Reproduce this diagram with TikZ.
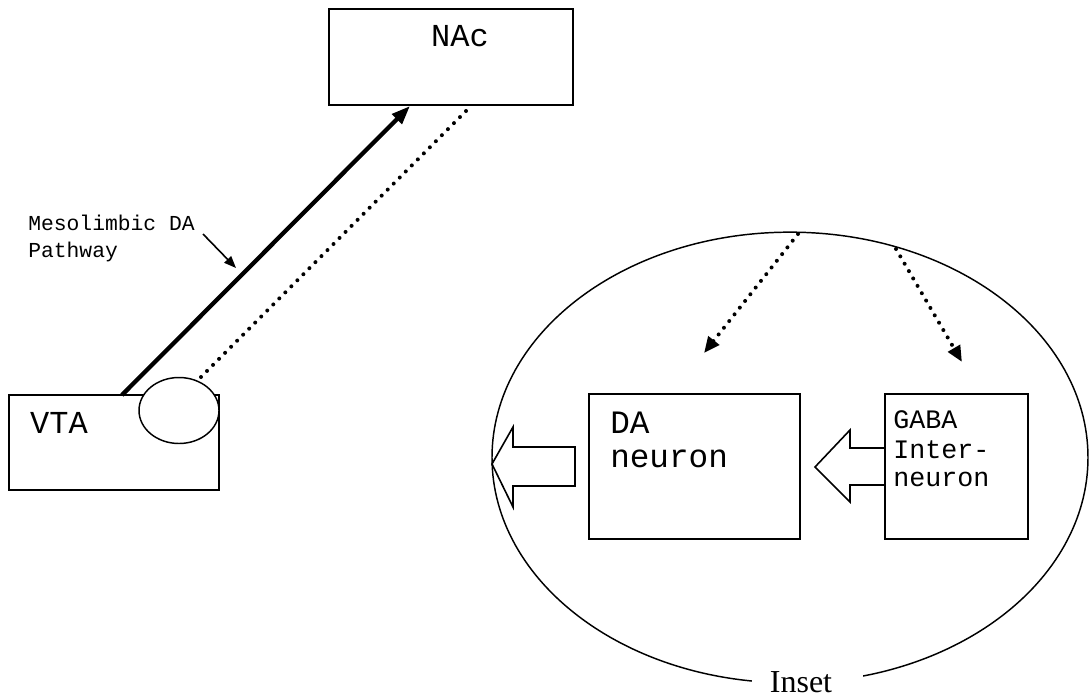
\documentclass[tikz,border=0pt]{standalone}
\usepackage{fontspec}
\setmainfont{Liberation Serif}
\setmonofont{Liberation Mono}
\usetikzlibrary{arrows.meta,shapes.geometric}
\begin{document}
\begin{tikzpicture}[x=0.75pt,y=-0.75pt,
  box/.style={draw,line width=1.5pt,inner sep=0,rectangle},
  txt/.style={inner sep=0,anchor=base west},
  dots/.style={line width=3pt,dash pattern=on 0pt off 6.4pt,line cap=round},
  hollow/.style={draw,line width=1.2pt,line join=miter}]
\useasboundingbox (0,0) rectangle (1090,697);
% boxes
\node[box,line width=1.9pt,minimum width=183pt,minimum height=72pt] (nac) at (451,57) {};
\node[box,minimum width=157.5pt,minimum height=71.25pt] (vta) at (114,442.5) {};
\node[draw,ellipse,fill=white,line width=1.1pt,inner sep=0,minimum width=60pt,minimum height=49.5pt] (term) at (179,410.5) {};
\node[draw,ellipse,line width=1.1pt,inner sep=0,minimum width=447pt,minimum height=338pt] (inset) at (790,457.5) {};
\node[box,minimum width=158.25pt,minimum height=108.75pt] (da) at (694.5,466.5) {};
\node[box,minimum width=107.25pt,minimum height=108.75pt] (gaba) at (956.5,466.5) {};
% texts
\node[inner sep=0,font=\ttfamily\fontsize{24}{24}\selectfont] (nact) at (460,36) {NAc};
\node[inner sep=0,font=\ttfamily\fontsize{24}{24}\selectfont] (vtat) at (59,422.5) {VTA};
\node[txt,font=\ttfamily\fontsize{16}{16}\selectfont] (meso1) at (28,230) {Mesolimbic DA};
\node[txt,font=\ttfamily\fontsize{16}{16}\selectfont] (meso2) at (28,257) {Pathway};
\node[txt,font=\ttfamily\fontsize{24.5}{24.5}\selectfont] (dat1) at (610,433) {DA};
\node[txt,font=\ttfamily\fontsize{24.5}{24.5}\selectfont] (dat2) at (610,467) {neuron};
\node[txt,font=\ttfamily\fontsize{20}{20}\selectfont] (gt1) at (893,428) {GABA};
\node[txt,font=\ttfamily\fontsize{20}{20}\selectfont] (gt2) at (893,458) {Inter-};
\node[txt,font=\ttfamily\fontsize{20}{20}\selectfont] (gt3) at (893,486) {neuron};
\fill[white] (752,668) rectangle (863,700);
\node[inner sep=0,anchor=base,font=\fontsize{24}{24}\selectfont] (insett) at (801,692) {Inset};
% connectors
\coordinate (s1) at (122,395);
\coordinate (e1) at (410,106);
\draw[line width=3.2pt,-{Triangle[length=14pt,width=10pt]}] (s1) -- (e1);
\coordinate (s2) at (201,377);
\coordinate (e2) at (470,107);
\draw[dots] (s2) -- (e2);
\coordinate (la) at (203,234);
\coordinate (lb) at (236,268);
\draw[line width=1.2pt,-{Triangle[length=9pt,width=7pt]}] (la) -- (lb);
\coordinate (d1) at (798,234);
\coordinate (d1e) at (704,353);
\draw[dots,-{Triangle[length=12pt,width=10pt]}] (d1) -- (d1e);
\coordinate (d2) at (896,249);
\coordinate (d2e) at (962,362);
\draw[dots,-{Triangle[length=12pt,width=10pt]}] (d2) -- (d2e);
% hollow arrows
\draw[hollow] (gaba.west |- {(0,448)}) -- (850,448) -- (850,430) -- (815,467) -- (850,502) -- (850,485) -- (gaba.west |- {(0,485)});
\draw[hollow] (575,447) -- (513,447) -- (513,427) -- (492,464) -- (513,507) -- (513,486) -- (575,486) -- cycle;
\end{tikzpicture}
\end{document}
